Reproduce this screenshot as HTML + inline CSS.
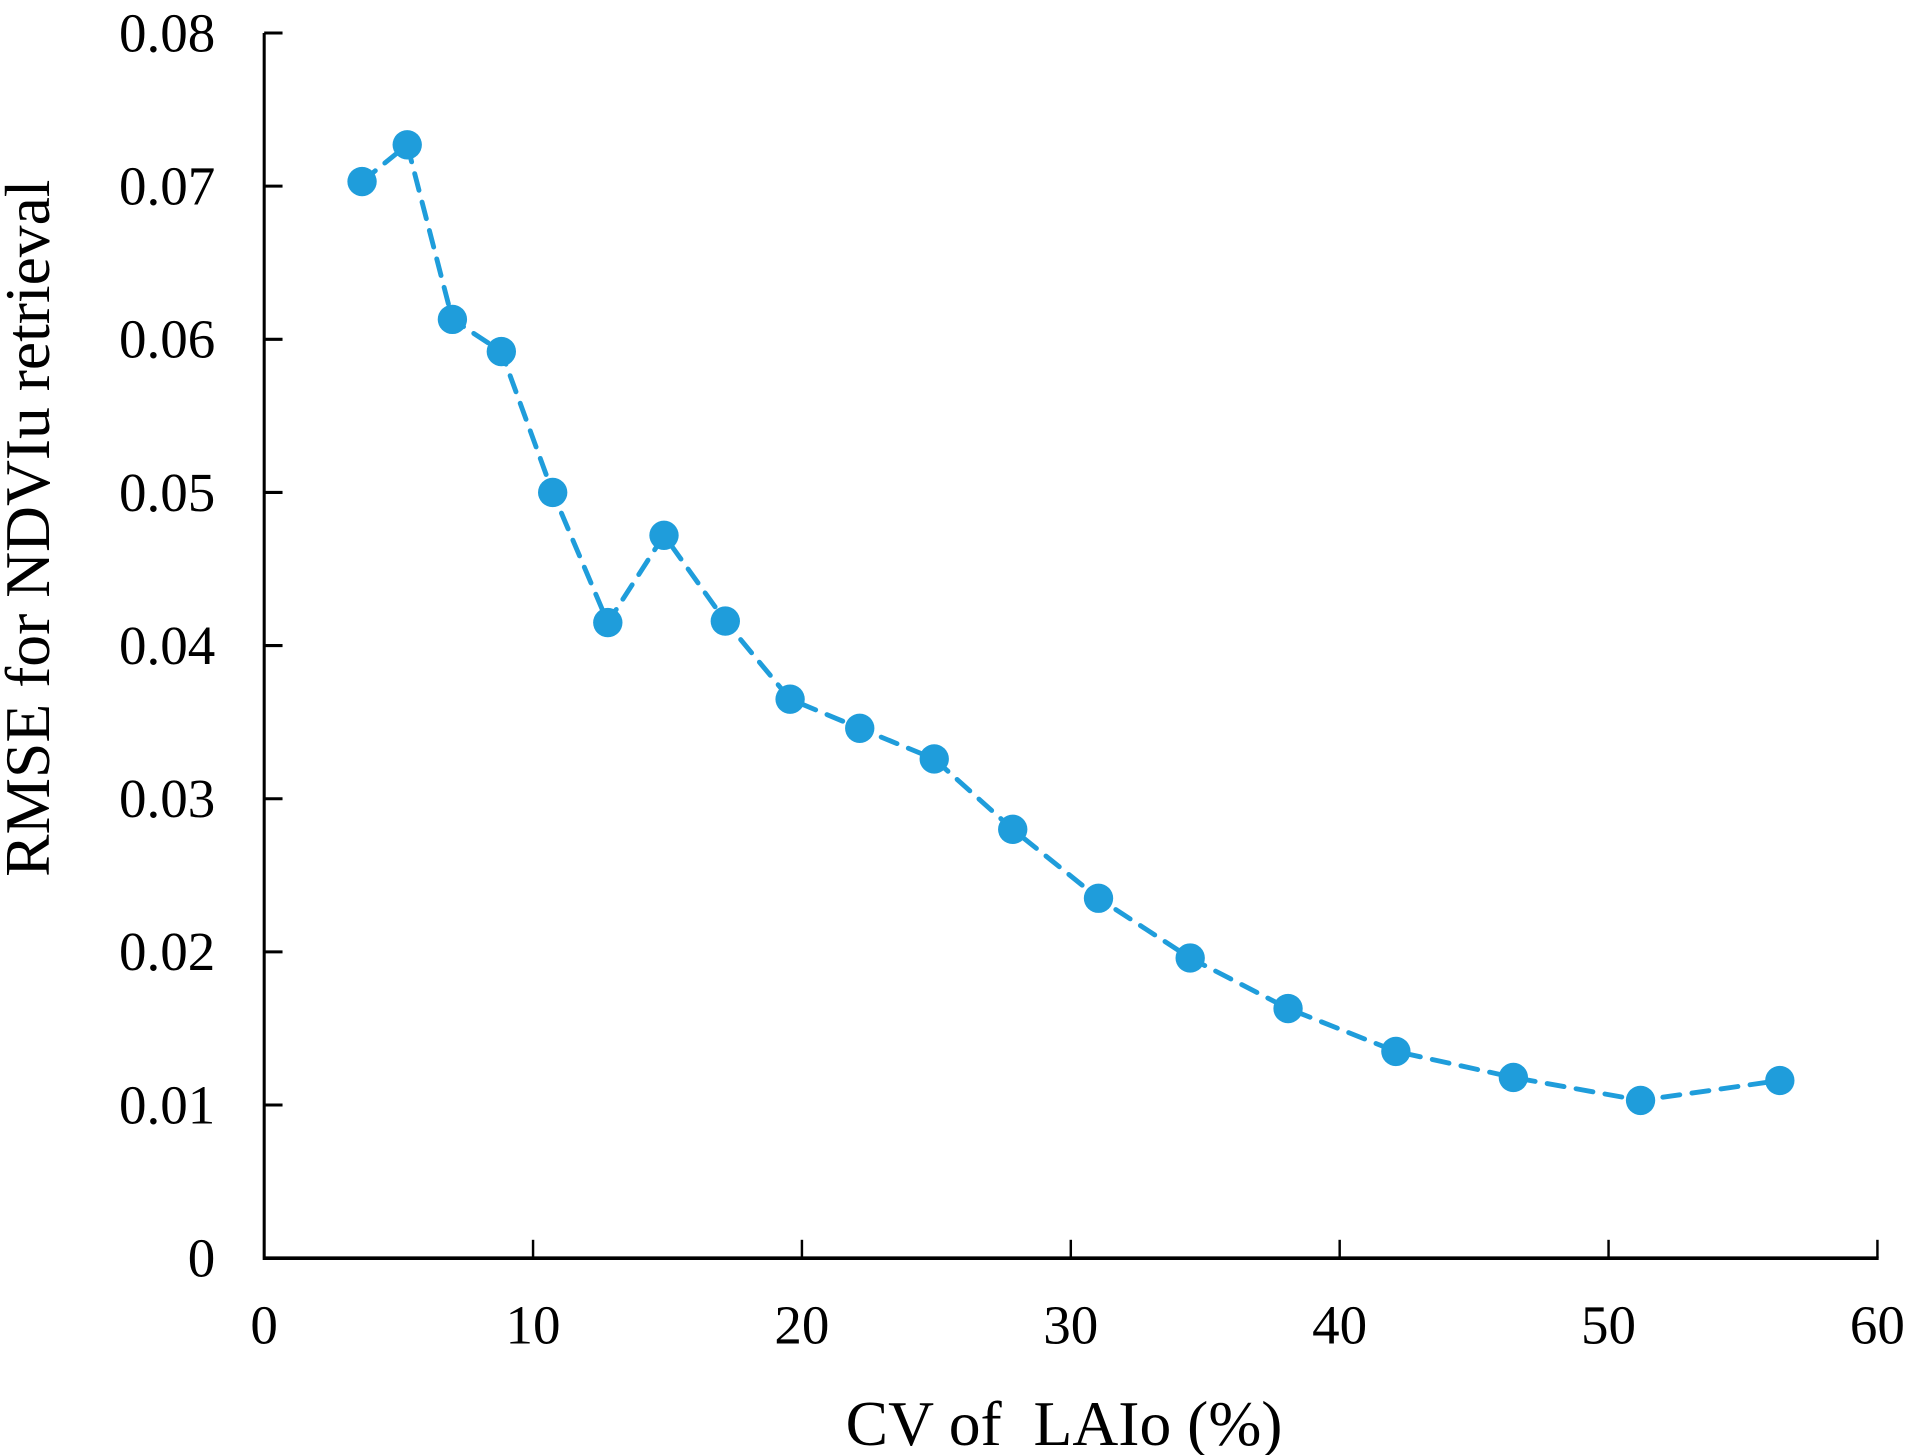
<!DOCTYPE html>
<html><head><meta charset="utf-8"><style>
html,body{margin:0;padding:0;background:#fff;}
svg{display:block;}
text{font-family:"Liberation Serif",serif;fill:#000;}
</style></head><body>
<svg id="chart" width="1908" height="1455" viewBox="0 0 1560 1190" preserveAspectRatio="none" xmlns="http://www.w3.org/2000/svg">
<g id="axes"></g>
<g id="series"></g>
<text x="870" y="1182" font-size="52" text-anchor="middle" xml:space="preserve">CV of  LAIo (%)</text>
<text transform="translate(40,432) rotate(-90)" font-size="52" text-anchor="middle">RMSE for NDVIu retrieval</text>
</svg>
<script>
const xValues=[3.64,5.32,7.0,8.82,10.73,12.78,14.87,17.15,19.56,22.15,24.92,27.84,31.03,34.44,38.08,42.09,46.46,51.19,56.37];
const yValues=[0.0703,0.0727,0.0613,0.0592,0.0500,0.0415,0.0472,0.0416,0.0365,0.0346,0.0326,0.0280,0.0235,0.0196,0.0163,0.0135,0.0118,0.0103,0.0116];
const xTicks=[0,10,20,30,40,50,60];
const yTicks=[0,0.01,0.02,0.03,0.04,0.05,0.06,0.07,0.08];
const yTickLabels=["0","0.01","0.02","0.03","0.04","0.05","0.06","0.07","0.08"];
const NS="http://www.w3.org/2000/svg";
const X0=216,X1=1535,Y0=1029,Y1=27;
function sx(v){return X0+(v-0)/(60-0)*(X1-X0);}
function sy(v){return Y0-(v-0)/(0.08-0)*(Y0-Y1);}
function mk(tag,attrs,parent){const e=document.createElementNS(NS,tag);for(const k in attrs)e.setAttribute(k,attrs[k]);parent.appendChild(e);return e;}
const axes=document.getElementById('axes');
let l=mk('line',{x1:X0,y1:Y0,x2:X1+1,y2:Y0,stroke:'#000','stroke-width':3},axes);


l=mk('line',{x1:X0,y1:Y1,x2:X0,y2:Y0+1.5,stroke:'#000','stroke-width':2.5},axes);


xTicks.forEach(t=>{
  const tk=mk('line',{x1:sx(t),y1:Y0,x2:sx(t),y2:Y0-15,stroke:'#000','stroke-width':2},axes);
  
  
  const tx=mk('text',{x:sx(t),y:1099,'font-size':45,'text-anchor':'middle'},axes);
  tx.textContent=String(t);
  
  
});
yTicks.forEach((t,i)=>{
  if(i>0){
    const tk=mk('line',{x1:X0,y1:sy(t),x2:X0+15,y2:sy(t),stroke:'#000','stroke-width':2.5},axes);
    
    
  }
  const tx=mk('text',{x:176,y:sy(t)+15,'font-size':45,'text-anchor':'end'},axes);
  tx.textContent=yTickLabels[i];
  
  
});
const series=document.getElementById('series');
const pts=xValues.map((x,i)=>sx(x)+','+sy(yValues[i])).join(' ');
const pl=mk('polyline',{points:pts,fill:'none',stroke:'#1f9ddb','stroke-width':4,'stroke-dasharray':'14 10','stroke-linecap':'round'},series);


xValues.forEach((x,i)=>{
  const c=mk('circle',{cx:sx(x),cy:sy(yValues[i]),r:12,fill:'#1f9ddb'},series);
  
  
});
</script>
</body></html>
